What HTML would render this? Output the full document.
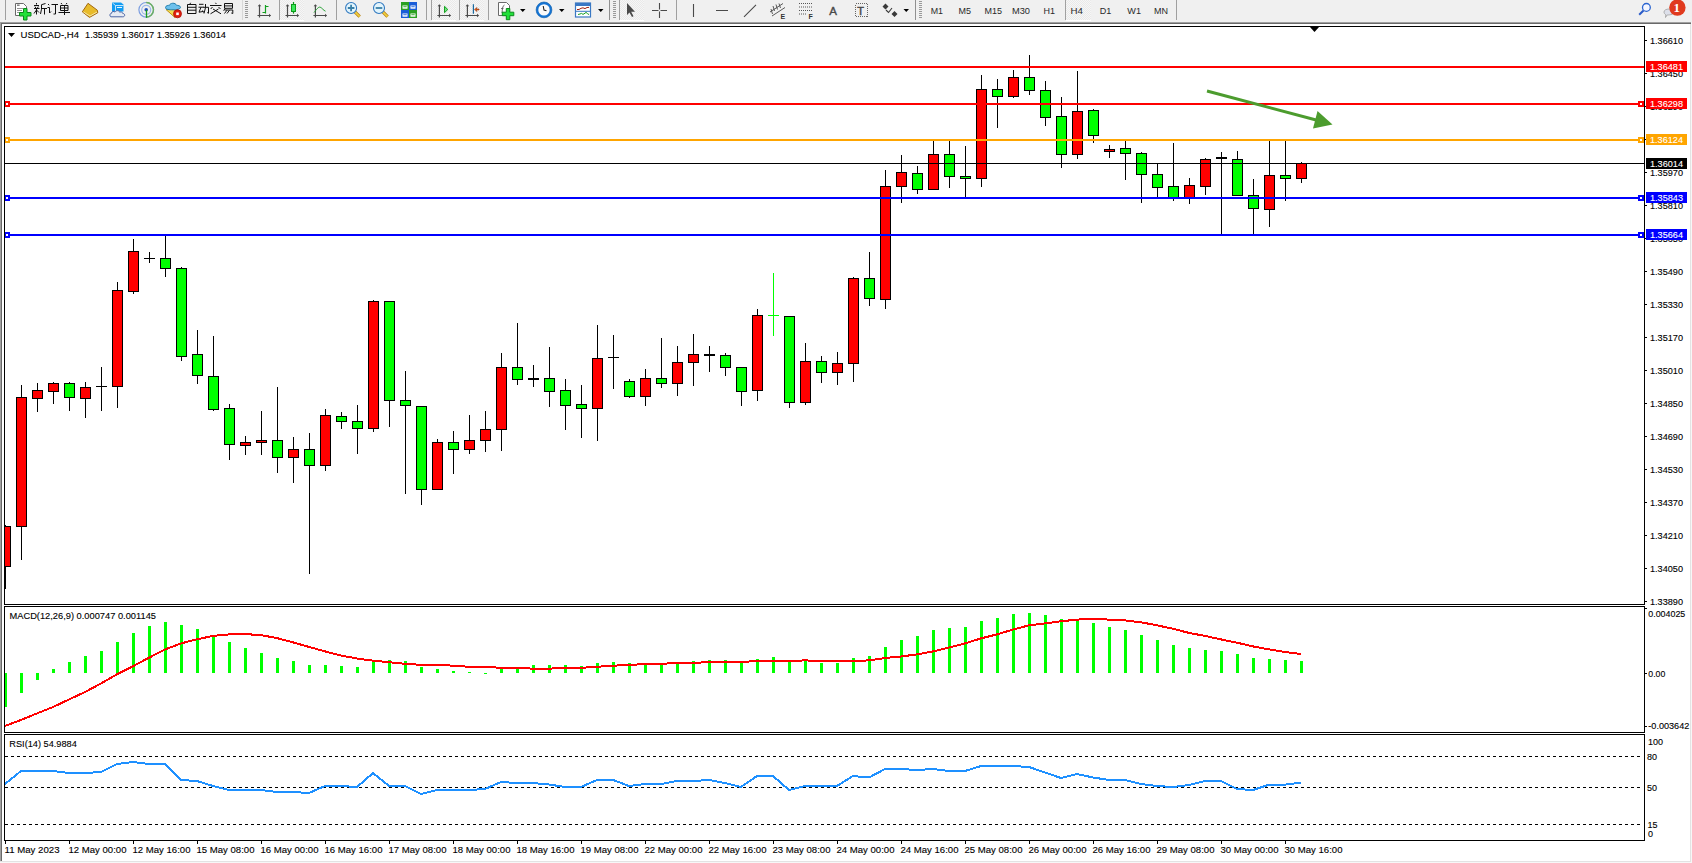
<!DOCTYPE html>
<html><head><meta charset="utf-8"><title>MT4 USDCAD H4</title>
<style>
html,body{margin:0;padding:0;background:#f0f0f0;overflow:hidden;width:1692px;height:863px}
svg{position:absolute;left:0;top:0;display:block}
text{font-family:"Liberation Sans", sans-serif;}
.ax{stroke:currentColor;stroke-width:0.3px}
</style></head><body>
<svg width="1692" height="863" viewBox="0 0 1692 863" shape-rendering="crispEdges">

<rect x="0" y="0" width="1692" height="863" fill="#f0f0f0"/>
<rect x="0" y="22" width="1692" height="841" fill="#ffffff"/>
<rect x="0" y="22" width="1692" height="1" fill="#a0a0a0"/>
<rect x="0" y="23" width="1692" height="1" fill="#696969"/>
<rect x="0" y="22" width="1" height="841" fill="#a0a0a0"/>
<rect x="1" y="23" width="1" height="840" fill="#696969"/>
<rect x="1690" y="24" width="1" height="839" fill="#e3e3e3"/>
<rect x="1691" y="22" width="1" height="841" fill="#f7f7f7"/>
<rect x="0" y="861" width="1691" height="1" fill="#e3e3e3"/>
<rect x="0" y="862" width="1692" height="1" fill="#f7f7f7"/>
<defs><pattern id="chk" width="2" height="2" patternUnits="userSpaceOnUse"><rect width="2" height="2" fill="#f6f6f6"/><rect width="1" height="1" fill="#e9e9e9"/><rect x="1" y="1" width="1" height="1" fill="#e9e9e9"/></pattern></defs>
<rect x="5" y="0" width="1" height="20" fill="#a0a0a0"/>
<rect x="242" y="0" width="1" height="20" fill="#d8d8d8"/>
<rect x="245" y="1" width="3" height="1" fill="#9a9a9a"/>
<rect x="245" y="3" width="3" height="1" fill="#9a9a9a"/>
<rect x="245" y="5" width="3" height="1" fill="#9a9a9a"/>
<rect x="245" y="7" width="3" height="1" fill="#9a9a9a"/>
<rect x="245" y="9" width="3" height="1" fill="#9a9a9a"/>
<rect x="245" y="11" width="3" height="1" fill="#9a9a9a"/>
<rect x="245" y="13" width="3" height="1" fill="#9a9a9a"/>
<rect x="245" y="15" width="3" height="1" fill="#9a9a9a"/>
<rect x="245" y="17" width="3" height="1" fill="#9a9a9a"/>
<rect x="279" y="0" width="1" height="20" fill="#a0a0a0"/>
<rect x="336" y="0" width="1" height="20" fill="#a0a0a0"/>
<rect x="426" y="0" width="1" height="20" fill="#a0a0a0"/>
<rect x="431" y="0" width="1" height="20" fill="#a0a0a0"/>
<rect x="459" y="0" width="1" height="20" fill="#a0a0a0"/>
<rect x="488" y="0" width="1" height="20" fill="#a0a0a0"/>
<rect x="609" y="0" width="1" height="20" fill="#909090"/>
<rect x="613" y="1" width="3" height="1" fill="#9a9a9a"/>
<rect x="613" y="3" width="3" height="1" fill="#9a9a9a"/>
<rect x="613" y="5" width="3" height="1" fill="#9a9a9a"/>
<rect x="613" y="7" width="3" height="1" fill="#9a9a9a"/>
<rect x="613" y="9" width="3" height="1" fill="#9a9a9a"/>
<rect x="613" y="11" width="3" height="1" fill="#9a9a9a"/>
<rect x="613" y="13" width="3" height="1" fill="#9a9a9a"/>
<rect x="613" y="15" width="3" height="1" fill="#9a9a9a"/>
<rect x="613" y="17" width="3" height="1" fill="#9a9a9a"/>
<rect x="619" y="0" width="1" height="20" fill="#a0a0a0"/>
<rect x="676" y="0" width="1" height="20" fill="#a0a0a0"/>
<rect x="915" y="0" width="1" height="20" fill="#909090"/>
<rect x="919" y="1" width="3" height="1" fill="#9a9a9a"/>
<rect x="919" y="3" width="3" height="1" fill="#9a9a9a"/>
<rect x="919" y="5" width="3" height="1" fill="#9a9a9a"/>
<rect x="919" y="7" width="3" height="1" fill="#9a9a9a"/>
<rect x="919" y="9" width="3" height="1" fill="#9a9a9a"/>
<rect x="919" y="11" width="3" height="1" fill="#9a9a9a"/>
<rect x="919" y="13" width="3" height="1" fill="#9a9a9a"/>
<rect x="919" y="15" width="3" height="1" fill="#9a9a9a"/>
<rect x="919" y="17" width="3" height="1" fill="#9a9a9a"/>
<rect x="1176" y="0" width="1" height="20" fill="#a0a0a0"/>
<rect x="280" y="0" width="24" height="20" fill="url(#chk)"/>
<rect x="280" y="20" width="24" height="1" fill="#ffffff"/>
<rect x="432" y="0" width="24" height="20" fill="url(#chk)"/>
<rect x="432" y="20" width="24" height="1" fill="#ffffff"/>
<rect x="460" y="0" width="24" height="20" fill="url(#chk)"/>
<rect x="460" y="20" width="24" height="1" fill="#ffffff"/>
<rect x="620" y="0" width="24" height="20" fill="url(#chk)"/>
<rect x="620" y="20" width="24" height="1" fill="#ffffff"/>
<rect x="1066" y="0" width="25" height="20" fill="url(#chk)"/>
<rect x="1066" y="20" width="25" height="1" fill="#ffffff"/>
<rect x="1065" y="0" width="1" height="20" fill="#a0a0a0"/>
<g shape-rendering="geometricPrecision">
<path d="M15.5,3.5 h8 l3,3 v9 h-11 z" fill="#fff" stroke="#6a6a6a" stroke-width="1"/>
<rect x="17" y="4.5" width="2.6" height="1.4" fill="#777"/>
<path d="M17,8.5 h6 M17,10.5 h5 M17,12.5 h3" stroke="#888" stroke-width="0.9"/>
<path d="M23.5,8.5 h3.5 v4 h4 v3.5 h-4 v4 h-3.5 v-4 h-4 v-3.5 h4 z" fill="#22e03a" stroke="#0a8a1a" stroke-width="1"/>
<path stroke="#111" stroke-width="1" fill="none" d="M36.5,3 v1.5 M34,5.5 h5 M35,6.5 l0.8,1.5 M38.3,6.5 l-0.8,1.5 M34,8.5 h5.5 M36.5,8.5 v6 M36.5,10 l-2.5,3.5 M36.5,10 l2.5,2.5 M45.5,3.5 l-4,1.2 v4.5 l-1,4.8 M41.5,8.5 h5.5 M44.5,8.5 v6"/>
<path stroke="#111" stroke-width="1" fill="none" d="M48,4 l1.2,1.2 M47.5,7.5 h2 v5.5 l1.5,-1.5 M51.5,4.5 h6.5 M55.5,4.5 v9.5 h-2"/>
<path stroke="#111" stroke-width="1" fill="none" d="M61,3 l1,1.3 M67,3 l-1,1.3 M60.5,5.5 h7.5 v5 h-7.5 z M60.5,8 h7.5 M64.5,5.5 v9.5 M58.5,12.5 h11.5"/>
<path d="M88,3.3 L97.3,10.2 L97.8,12.7 L89.5,17.4 L82.3,11.8 Z" fill="#e8bb2a" stroke="#a2680e" stroke-width="1"/>
<path d="M83.5,12 L90,16 L97,12" fill="none" stroke="#f7e6a6" stroke-width="1"/>
<path d="M112,2.5 h9 l2.5,2 v7 h-11.5 z" fill="#129cf2"/>
<path d="M112.5,3 l3,2.5 v6 M115.5,5.5 h8" stroke="#e8f6ff" stroke-width="0.8" fill="none"/>
<path d="M117,7.5 h5" stroke="#e8f6ff" stroke-width="1" fill="none"/>
<path d="M111,16.8 c-1.5,0 -1.5,-3.5 0.5,-3.5 c0,-2 2.5,-2.5 3.5,-1.2 c1,-2 4,-2 4.8,0.2 c1,-1 3,0 3,1.2 c2.5,0 2.5,3.3 0,3.3 z" fill="#e6eaf3" stroke="#4a64a4" stroke-width="1"/>
<circle cx="146.2" cy="9.8" r="7.3" fill="none" stroke="#7c9ee0" stroke-width="1.2"/>
<circle cx="146.2" cy="9.8" r="4.5" fill="none" stroke="#9cb8e8" stroke-width="1.2"/>
<path d="M146.2,2.5 A7.3,7.3 0 0 1 146.2,17.1" fill="none" stroke="#6cb060" stroke-width="1.4"/>
<circle cx="146.2" cy="9.8" r="1.8" fill="#2050c0"/>
<path d="M146.5,9.8 v8" stroke="#1a9a1a" stroke-width="1.3"/>
<path d="M166,9.5 L178,9.5 L175,17.5 Z" fill="#f4dc50" stroke="#c09010" stroke-width="1"/>
<path d="M165.5,7.5 c0,-2 3,-2.2 4,-2.2 c0.5,-2.5 6,-3 7,0 c1.5,0 4,0.5 4,2 c0,2 -4,2.5 -7.5,2.5 c-3.5,0 -7.5,0 -7.5,-2.3 z" fill="#6cc0ec" stroke="#2480b0" stroke-width="1"/>
<circle cx="177.5" cy="13.8" r="4" fill="#e02010" stroke="#b01008" stroke-width="0.8"/>
<rect x="176.2" y="12.5" width="2.6" height="2.6" fill="#fff"/>
<path stroke="#111" stroke-width="1" fill="none" d="M190.6,2.8 l-0.8,1.5 M187.5,4.5 h8.5 v9 h-8.5 z M187.5,7.3 h8.5 M187.5,10.2 h8.5"/>
<path stroke="#111" stroke-width="1" fill="none" d="M199,4.3 h4.5 M198.5,7.2 h5.5 M201,7.2 l-2,5 l4.5,-0.8 M202.5,10.5 l1,2 M203.5,7.3 h5 v6 l-1.3,-0.8 M205.5,4 v3.5 l-1.5,6"/>
<path stroke="#111" stroke-width="1" fill="none" d="M215.5,2.8 l0.8,1.2 M210,5.5 h11.5 M212.5,7 l-1.8,2 M218.5,7 l2,2 M213,9 l8,4.8 M218.5,9 l-8,4.8"/>
<path stroke="#111" stroke-width="1" fill="none" d="M224.5,3.5 h8 v4.8 h-8 z M224.5,5.9 h8 M225.5,8.3 l-2,2.2 M224.3,10 h8.5 v3.5 l-1.5,-0.5 M227,10.2 l-2.5,3.3 M229.5,10.2 l-2.5,3.3"/>
<path d="M259.5,5.3 V17.5 M257.5,15.5 H270.5" stroke="#4a4a4a" stroke-width="1.2" fill="none"/>
<path d="M257.7,6.3 L259.5,4.3 L261.3,6.3 Z M269.0,13.7 L271.0,15.5 L269.0,17.3 Z" fill="#4a4a4a"/>
<path d="M265.5,5 V13.6 M265.5,6.5 H268.5 M262.5,12.5 H265.5" stroke="#13a020" stroke-width="1.2" fill="none"/>
<path d="M287.5,5.3 V17.5 M285.5,15.5 H298.5" stroke="#4a4a4a" stroke-width="1.2" fill="none"/>
<path d="M285.7,6.3 L287.5,4.3 L289.3,6.3 Z M297.0,13.7 L299.0,15.5 L297.0,17.3 Z" fill="#4a4a4a"/>
<path d="M293.5,2 V13.6" stroke="#0c9a1a" stroke-width="1.2"/>
<rect x="291.5" y="4.5" width="4" height="7" fill="#3ae85a" stroke="#0c9a1a" stroke-width="1"/>
<path d="M315.4,5.3 V17.5 M313.4,15.5 H326.5" stroke="#4a4a4a" stroke-width="1.2" fill="none"/>
<path d="M313.59999999999997,6.3 L315.4,4.3 L317.2,6.3 Z M325.0,13.7 L327.0,15.5 L325.0,17.3 Z" fill="#4a4a4a"/>
<path d="M314,12.5 C316.5,9.5 318.5,6.5 320.2,7.2 C322,7.8 323.5,10.5 325.5,11.2" stroke="#22a030" stroke-width="1" fill="none"/>
<path d="M354.90000000000003,11.8 L359.70000000000005,16.6" stroke="#b27a10" stroke-width="3.2" stroke-linecap="butt"/>
<path d="M354.90000000000003,11.8 L359.70000000000005,16.6" stroke="#f0d040" stroke-width="1.8"/>
<circle cx="351.1" cy="8" r="5.5" fill="#e2f4fc" stroke="#2f78c0" stroke-width="1.1"/>
<path d="M347.8,8 H354.40000000000003 M351.1,4.7 V11.3" stroke="#3a80a8" stroke-width="1.8"/>
<path d="M382.8,11.8 L387.6,16.6" stroke="#b27a10" stroke-width="3.2" stroke-linecap="butt"/>
<path d="M382.8,11.8 L387.6,16.6" stroke="#f0d040" stroke-width="1.8"/>
<circle cx="379" cy="8" r="5.5" fill="#e2f4fc" stroke="#2f78c0" stroke-width="1.1"/>
<path d="M375.7,8 H382.3" stroke="#3a80a8" stroke-width="1.8"/>
<rect x="401" y="2" width="8" height="8" fill="#2aa020"/>
<rect x="402.5" y="5.5" width="5" height="3.2" fill="#fff"/>
<rect x="403.3" y="6.3" width="3.4" height="0.9" fill="#2aa020"/>
<rect x="409" y="2" width="8" height="8" fill="#1a5ed8"/>
<rect x="410.5" y="5.5" width="5" height="3.2" fill="#fff"/>
<rect x="411.3" y="6.3" width="3.4" height="0.9" fill="#1a5ed8"/>
<rect x="401" y="10" width="8" height="8" fill="#1a5ed8"/>
<rect x="402.5" y="13.5" width="5" height="3.2" fill="#fff"/>
<rect x="403.3" y="14.3" width="3.4" height="0.9" fill="#1a5ed8"/>
<rect x="409" y="10" width="8" height="8" fill="#2aa020"/>
<rect x="410.5" y="13.5" width="5" height="3.2" fill="#fff"/>
<rect x="411.3" y="14.3" width="3.4" height="0.9" fill="#2aa020"/>
<path d="M439.4,5.3 V17.5 M437.4,15.5 H450.5" stroke="#4a4a4a" stroke-width="1.2" fill="none"/>
<path d="M437.59999999999997,6.3 L439.4,4.3 L441.2,6.3 Z M449.0,13.7 L451.0,15.5 L449.0,17.3 Z" fill="#4a4a4a"/>
<path d="M444.5,6.3 L447.8,9.5 L444.5,12.7 Z" fill="#6ee07a" stroke="#14a020" stroke-width="1"/>
<path d="M467.4,5.3 V17.5 M465.4,15.5 H478.5" stroke="#4a4a4a" stroke-width="1.2" fill="none"/>
<path d="M465.59999999999997,6.3 L467.4,4.3 L469.2,6.3 Z M477.0,13.7 L479.0,15.5 L477.0,17.3 Z" fill="#4a4a4a"/>
<path d="M473.4,4.3 V13.7" stroke="#1a6aa0" stroke-width="1.2"/>
<path d="M474.5,9.5 L477,7.5 L476.3,9 H479 V10 H476.3 L477,11.5 Z" fill="#e8601a" stroke="#9a3a10" stroke-width="0.6"/>
<path d="M498.5,2.5 h8 l3,3 v10 h-11 z" fill="#fff" stroke="#6a6a6a" stroke-width="1"/>
<path d="M502,13 C502.5,10 502,6 504.5,5" stroke="#555" stroke-width="0.9" fill="none"/><path d="M501,8.5 h2.5" stroke="#555" stroke-width="0.8"/>
<path d="M506.3,8.5 h3.5 v3.7 h4 v3.5 h-4 v4 h-3.5 v-4 h-4 v-3.5 h4 z" fill="#22e03a" stroke="#0a8a1a" stroke-width="1"/>
<path d="M520,9 L525.5,9 L522.75,12 Z" fill="#000"/>
<path d="M559,9 L564.5,9 L561.75,12 Z" fill="#000"/>
<path d="M598,9 L603.5,9 L600.75,12 Z" fill="#000"/>
<path d="M903.5,9 L909.0,9 L906.25,12 Z" fill="#000"/>
<circle cx="544" cy="9.9" r="6.8" fill="#fafafa" stroke="#1474d4" stroke-width="2.2"/>
<circle cx="544" cy="9.9" r="7.9" fill="none" stroke="#0a5aa8" stroke-width="0.6"/>
<path d="M543.2,6 L544,10 L546.5,10.8" stroke="#222" stroke-width="1.1" fill="none"/>
<rect x="575.5" y="3" width="15" height="14" fill="#fff" stroke="#3a78c4" stroke-width="1.2"/>
<rect x="575.5" y="3" width="15" height="3" fill="#3a78c4"/>
<rect x="575.5" y="10.8" width="15" height="1" fill="#3a78c4"/>
<path d="M577,9.5 L579,9.5 L581,8.3 L583,7.8 L585,8.6 L587,7.5 L589,7.4" stroke="#a02010" stroke-width="1" fill="none"/>
<path d="M578,14.5 L580,14 L581.5,13.4 L583,14.4 L585,13.2 L586,12.4 L587.5,13.6 L589,14.6" stroke="#14a020" stroke-width="1" fill="none"/>
<path d="M627,3 L627,15 L629.5,12.5 L632,17 L633.5,16.3 L631.2,11.8 L635,11.8 Z" fill="#4a4a4a"/>
<path d="M652,10.5 H658.5 M660.5,10.5 H667 M659.5,3 V9.5 M659.5,11.5 V18" stroke="#4a4a4a" stroke-width="1.1"/>
<path d="M693.5,4 V17 M716,10.5 H728 M744,16.8 L756,4.8" stroke="#4a4a4a" stroke-width="1.1" fill="none"/>
<path d="M770,12 L783,3.5 M772,16 L785,7.5 M773,6 L774.5,11 M776,4.5 L777.5,9.5 M779,3.5 L780.5,8 M772.5,14 L771,9" stroke="#4a4a4a" stroke-width="0.9" fill="none"/>
<text x="780.5" y="18.8" font-size="7" font-weight="bold" fill="#333" style="font-family:'Liberation Sans',sans-serif">E</text>
<path d="M799,3.5 H812 M799,7 H812 M799,10.5 H812 M799,14 H807" stroke="#555" stroke-width="1" stroke-dasharray="1,1" fill="none"/>
<text x="808.5" y="18.8" font-size="7" font-weight="bold" fill="#333" style="font-family:'Liberation Sans',sans-serif">F</text>
<text x="829.3" y="15" font-size="11.5" fill="#4a4a4a" stroke="#4a4a4a" stroke-width="0.4" style="font-family:'Liberation Sans',sans-serif">A</text>
<rect x="855.5" y="3.5" width="12" height="13" fill="none" stroke="#666" stroke-width="1" stroke-dasharray="1,1" shape-rendering="crispEdges"/>
<text x="857.3" y="14.5" font-size="11" fill="#4a4a4a" stroke="#4a4a4a" stroke-width="0.5" style="font-family:'Liberation Sans',sans-serif">T</text>
<path d="M882.5,6.5 L885.5,3.5 L888.5,6.5 L885.5,9.5 Z M891.5,14 L894.5,11 L897.5,14 L894.5,17 Z" fill="#3a3a3a"/>
<path d="M886,10 L888.5,12.5 L892,8" stroke="#3a3a3a" stroke-width="1.1" fill="none"/>
<circle cx="1646.4" cy="7.4" r="3.9" fill="#f4f6ff" stroke="#2a64d0" stroke-width="1.3"/>
<path d="M1643.5,10.5 L1639.2,14.8" stroke="#2a5ac8" stroke-width="2"/>
<path d="M1664,12 c0,-4 10,-4 10,0 c0,3 -6,3 -7,3 l-1.5,2.5 l0.3,-2.8 c-1,-0.5 -1.8,-1.5 -1.8,-2.7 z" fill="#dde0ea" stroke="#a0a0a0" stroke-width="0.8"/>
<circle cx="1677.4" cy="7.6" r="8.2" fill="#e03a1e"/>
<text x="1673.6" y="12.3" font-size="13" font-weight="bold" fill="#fff" style="font-family:'Liberation Serif',serif">1</text>
</g>
<text x="930.7" y="14.2" font-size="9.6" fill="#2a2a2a" textLength="12.3" lengthAdjust="spacingAndGlyphs" style="font-family:'Liberation Sans',sans-serif">M1</text>
<text x="958.5" y="14.2" font-size="9.6" fill="#2a2a2a" textLength="12.5" lengthAdjust="spacingAndGlyphs" style="font-family:'Liberation Sans',sans-serif">M5</text>
<text x="984.5" y="14.2" font-size="9.6" fill="#2a2a2a" textLength="17.5" lengthAdjust="spacingAndGlyphs" style="font-family:'Liberation Sans',sans-serif">M15</text>
<text x="1012" y="14.2" font-size="9.6" fill="#2a2a2a" textLength="18" lengthAdjust="spacingAndGlyphs" style="font-family:'Liberation Sans',sans-serif">M30</text>
<text x="1043.5" y="14.2" font-size="9.6" fill="#2a2a2a" textLength="11.5" lengthAdjust="spacingAndGlyphs" style="font-family:'Liberation Sans',sans-serif">H1</text>
<text x="1070.6" y="14.2" font-size="9.6" fill="#2a2a2a" textLength="12.4" lengthAdjust="spacingAndGlyphs" style="font-family:'Liberation Sans',sans-serif">H4</text>
<text x="1099.8" y="14.2" font-size="9.6" fill="#2a2a2a" textLength="11.6" lengthAdjust="spacingAndGlyphs" style="font-family:'Liberation Sans',sans-serif">D1</text>
<text x="1127.3" y="14.2" font-size="9.6" fill="#2a2a2a" textLength="13.7" lengthAdjust="spacingAndGlyphs" style="font-family:'Liberation Sans',sans-serif">W1</text>
<text x="1154" y="14.2" font-size="9.6" fill="#2a2a2a" textLength="14" lengthAdjust="spacingAndGlyphs" style="font-family:'Liberation Sans',sans-serif">MN</text>
<defs><clipPath id="cm"><rect x="5" y="27" width="1639" height="577"/></clipPath><clipPath id="cmacd"><rect x="5" y="607" width="1639" height="125"/></clipPath><clipPath id="crsi"><rect x="5" y="735" width="1639" height="105"/></clipPath></defs>
<g clip-path="url(#cm)">
<rect x="5" y="525" width="1" height="64" fill="#000"/>
<rect x="0" y="526" width="11" height="41" fill="#000"/>
<rect x="1" y="527" width="9" height="39" fill="#ff0000"/>
<rect x="21" y="385" width="1" height="175" fill="#000"/>
<rect x="16" y="397" width="11" height="130" fill="#000"/>
<rect x="17" y="398" width="9" height="128" fill="#ff0000"/>
<rect x="37" y="383" width="1" height="29" fill="#000"/>
<rect x="32" y="390" width="11" height="9" fill="#000"/>
<rect x="33" y="391" width="9" height="7" fill="#ff0000"/>
<rect x="53" y="382" width="1" height="22" fill="#000"/>
<rect x="48" y="383" width="11" height="9" fill="#000"/>
<rect x="49" y="384" width="9" height="7" fill="#ff0000"/>
<rect x="69" y="382" width="1" height="29" fill="#000"/>
<rect x="64" y="383" width="11" height="15" fill="#000"/>
<rect x="65" y="384" width="9" height="13" fill="#00ff00"/>
<rect x="85" y="382" width="1" height="36" fill="#000"/>
<rect x="80" y="387" width="11" height="12" fill="#000"/>
<rect x="81" y="388" width="9" height="10" fill="#ff0000"/>
<rect x="101" y="367" width="1" height="44" fill="#000"/>
<rect x="96" y="386" width="11" height="1" fill="#000"/>
<rect x="117" y="282" width="1" height="126" fill="#000"/>
<rect x="112" y="290" width="11" height="97" fill="#000"/>
<rect x="113" y="291" width="9" height="95" fill="#ff0000"/>
<rect x="133" y="239" width="1" height="55" fill="#000"/>
<rect x="128" y="251" width="11" height="41" fill="#000"/>
<rect x="129" y="252" width="9" height="39" fill="#ff0000"/>
<rect x="149" y="252" width="1" height="11" fill="#000"/>
<rect x="144" y="258" width="11" height="1" fill="#000"/>
<rect x="165" y="235" width="1" height="42" fill="#000"/>
<rect x="160" y="258" width="11" height="11" fill="#000"/>
<rect x="161" y="259" width="9" height="9" fill="#00ff00"/>
<rect x="181" y="267" width="1" height="94" fill="#000"/>
<rect x="176" y="268" width="11" height="89" fill="#000"/>
<rect x="177" y="269" width="9" height="87" fill="#00ff00"/>
<rect x="197" y="330" width="1" height="54" fill="#000"/>
<rect x="192" y="354" width="11" height="22" fill="#000"/>
<rect x="193" y="355" width="9" height="20" fill="#00ff00"/>
<rect x="213" y="336" width="1" height="75" fill="#000"/>
<rect x="208" y="376" width="11" height="34" fill="#000"/>
<rect x="209" y="377" width="9" height="32" fill="#00ff00"/>
<rect x="229" y="404" width="1" height="56" fill="#000"/>
<rect x="224" y="408" width="11" height="37" fill="#000"/>
<rect x="225" y="409" width="9" height="35" fill="#00ff00"/>
<rect x="245" y="436" width="1" height="19" fill="#000"/>
<rect x="240" y="442" width="11" height="4" fill="#000"/>
<rect x="241" y="443" width="9" height="2" fill="#ff0000"/>
<rect x="261" y="411" width="1" height="44" fill="#000"/>
<rect x="256" y="440" width="11" height="3" fill="#000"/>
<rect x="257" y="441" width="9" height="1" fill="#ff0000"/>
<rect x="277" y="387" width="1" height="86" fill="#000"/>
<rect x="272" y="440" width="11" height="18" fill="#000"/>
<rect x="273" y="441" width="9" height="16" fill="#00ff00"/>
<rect x="293" y="437" width="1" height="46" fill="#000"/>
<rect x="288" y="449" width="11" height="9" fill="#000"/>
<rect x="289" y="450" width="9" height="7" fill="#ff0000"/>
<rect x="309" y="433" width="1" height="141" fill="#000"/>
<rect x="304" y="449" width="11" height="17" fill="#000"/>
<rect x="305" y="450" width="9" height="15" fill="#00ff00"/>
<rect x="325" y="409" width="1" height="62" fill="#000"/>
<rect x="320" y="415" width="11" height="51" fill="#000"/>
<rect x="321" y="416" width="9" height="49" fill="#ff0000"/>
<rect x="341" y="412" width="1" height="17" fill="#000"/>
<rect x="336" y="416" width="11" height="6" fill="#000"/>
<rect x="337" y="417" width="9" height="4" fill="#00ff00"/>
<rect x="357" y="405" width="1" height="49" fill="#000"/>
<rect x="352" y="421" width="11" height="8" fill="#000"/>
<rect x="353" y="422" width="9" height="6" fill="#00ff00"/>
<rect x="373" y="300" width="1" height="132" fill="#000"/>
<rect x="368" y="301" width="11" height="128" fill="#000"/>
<rect x="369" y="302" width="9" height="126" fill="#ff0000"/>
<rect x="389" y="301" width="1" height="126" fill="#000"/>
<rect x="384" y="301" width="11" height="100" fill="#000"/>
<rect x="385" y="302" width="9" height="98" fill="#00ff00"/>
<rect x="405" y="371" width="1" height="123" fill="#000"/>
<rect x="400" y="400" width="11" height="6" fill="#000"/>
<rect x="401" y="401" width="9" height="4" fill="#00ff00"/>
<rect x="421" y="406" width="1" height="99" fill="#000"/>
<rect x="416" y="406" width="11" height="84" fill="#000"/>
<rect x="417" y="407" width="9" height="82" fill="#00ff00"/>
<rect x="437" y="439" width="1" height="51" fill="#000"/>
<rect x="432" y="442" width="11" height="48" fill="#000"/>
<rect x="433" y="443" width="9" height="46" fill="#ff0000"/>
<rect x="453" y="431" width="1" height="43" fill="#000"/>
<rect x="448" y="442" width="11" height="8" fill="#000"/>
<rect x="449" y="443" width="9" height="6" fill="#00ff00"/>
<rect x="469" y="415" width="1" height="39" fill="#000"/>
<rect x="464" y="440" width="11" height="10" fill="#000"/>
<rect x="465" y="441" width="9" height="8" fill="#ff0000"/>
<rect x="485" y="411" width="1" height="41" fill="#000"/>
<rect x="480" y="429" width="11" height="12" fill="#000"/>
<rect x="481" y="430" width="9" height="10" fill="#ff0000"/>
<rect x="501" y="353" width="1" height="98" fill="#000"/>
<rect x="496" y="367" width="11" height="63" fill="#000"/>
<rect x="497" y="368" width="9" height="61" fill="#ff0000"/>
<rect x="517" y="323" width="1" height="62" fill="#000"/>
<rect x="512" y="367" width="11" height="13" fill="#000"/>
<rect x="513" y="368" width="9" height="11" fill="#00ff00"/>
<rect x="533" y="365" width="1" height="22" fill="#000"/>
<rect x="528" y="378" width="11" height="2" fill="#000"/>
<rect x="549" y="347" width="1" height="60" fill="#000"/>
<rect x="544" y="378" width="11" height="14" fill="#000"/>
<rect x="545" y="379" width="9" height="12" fill="#00ff00"/>
<rect x="565" y="379" width="1" height="51" fill="#000"/>
<rect x="560" y="390" width="11" height="16" fill="#000"/>
<rect x="561" y="391" width="9" height="14" fill="#00ff00"/>
<rect x="581" y="385" width="1" height="53" fill="#000"/>
<rect x="576" y="404" width="11" height="5" fill="#000"/>
<rect x="577" y="405" width="9" height="3" fill="#00ff00"/>
<rect x="597" y="325" width="1" height="116" fill="#000"/>
<rect x="592" y="358" width="11" height="51" fill="#000"/>
<rect x="593" y="359" width="9" height="49" fill="#ff0000"/>
<rect x="613" y="335" width="1" height="54" fill="#000"/>
<rect x="608" y="357" width="11" height="1" fill="#000"/>
<rect x="629" y="379" width="1" height="19" fill="#000"/>
<rect x="624" y="381" width="11" height="16" fill="#000"/>
<rect x="625" y="382" width="9" height="14" fill="#00ff00"/>
<rect x="645" y="369" width="1" height="37" fill="#000"/>
<rect x="640" y="378" width="11" height="19" fill="#000"/>
<rect x="641" y="379" width="9" height="17" fill="#ff0000"/>
<rect x="661" y="338" width="1" height="50" fill="#000"/>
<rect x="656" y="378" width="11" height="6" fill="#000"/>
<rect x="657" y="379" width="9" height="4" fill="#00ff00"/>
<rect x="677" y="346" width="1" height="50" fill="#000"/>
<rect x="672" y="362" width="11" height="22" fill="#000"/>
<rect x="673" y="363" width="9" height="20" fill="#ff0000"/>
<rect x="693" y="334" width="1" height="52" fill="#000"/>
<rect x="688" y="354" width="11" height="9" fill="#000"/>
<rect x="689" y="355" width="9" height="7" fill="#ff0000"/>
<rect x="709" y="346" width="1" height="26" fill="#000"/>
<rect x="704" y="354" width="11" height="2" fill="#000"/>
<rect x="725" y="353" width="1" height="23" fill="#000"/>
<rect x="720" y="355" width="11" height="13" fill="#000"/>
<rect x="721" y="356" width="9" height="11" fill="#00ff00"/>
<rect x="741" y="367" width="1" height="39" fill="#000"/>
<rect x="736" y="367" width="11" height="25" fill="#000"/>
<rect x="737" y="368" width="9" height="23" fill="#00ff00"/>
<rect x="757" y="309" width="1" height="92" fill="#000"/>
<rect x="752" y="315" width="11" height="76" fill="#000"/>
<rect x="753" y="316" width="9" height="74" fill="#ff0000"/>
<rect x="773" y="273" width="1" height="63" fill="#00ff00"/>
<rect x="768" y="315" width="11" height="1" fill="#00ff00"/>
<rect x="789" y="316" width="1" height="92" fill="#000"/>
<rect x="784" y="316" width="11" height="87" fill="#000"/>
<rect x="785" y="317" width="9" height="85" fill="#00ff00"/>
<rect x="805" y="343" width="1" height="62" fill="#000"/>
<rect x="800" y="361" width="11" height="42" fill="#000"/>
<rect x="801" y="362" width="9" height="40" fill="#ff0000"/>
<rect x="821" y="356" width="1" height="27" fill="#000"/>
<rect x="816" y="361" width="11" height="12" fill="#000"/>
<rect x="817" y="362" width="9" height="10" fill="#00ff00"/>
<rect x="837" y="352" width="1" height="33" fill="#000"/>
<rect x="832" y="363" width="11" height="10" fill="#000"/>
<rect x="833" y="364" width="9" height="8" fill="#ff0000"/>
<rect x="853" y="277" width="1" height="105" fill="#000"/>
<rect x="848" y="278" width="11" height="86" fill="#000"/>
<rect x="849" y="279" width="9" height="84" fill="#ff0000"/>
<rect x="869" y="252" width="1" height="54" fill="#000"/>
<rect x="864" y="278" width="11" height="21" fill="#000"/>
<rect x="865" y="279" width="9" height="19" fill="#00ff00"/>
<rect x="885" y="170" width="1" height="139" fill="#000"/>
<rect x="880" y="186" width="11" height="114" fill="#000"/>
<rect x="881" y="187" width="9" height="112" fill="#ff0000"/>
<rect x="901" y="155" width="1" height="48" fill="#000"/>
<rect x="896" y="172" width="11" height="15" fill="#000"/>
<rect x="897" y="173" width="9" height="13" fill="#ff0000"/>
<rect x="917" y="166" width="1" height="28" fill="#000"/>
<rect x="912" y="173" width="11" height="17" fill="#000"/>
<rect x="913" y="174" width="9" height="15" fill="#00ff00"/>
<rect x="933" y="141" width="1" height="49" fill="#000"/>
<rect x="928" y="154" width="11" height="36" fill="#000"/>
<rect x="929" y="155" width="9" height="34" fill="#ff0000"/>
<rect x="949" y="141" width="1" height="47" fill="#000"/>
<rect x="944" y="154" width="11" height="23" fill="#000"/>
<rect x="945" y="155" width="9" height="21" fill="#00ff00"/>
<rect x="965" y="146" width="1" height="52" fill="#000"/>
<rect x="960" y="176" width="11" height="3" fill="#000"/>
<rect x="961" y="177" width="9" height="1" fill="#00ff00"/>
<rect x="981" y="75" width="1" height="112" fill="#000"/>
<rect x="976" y="89" width="11" height="90" fill="#000"/>
<rect x="977" y="90" width="9" height="88" fill="#ff0000"/>
<rect x="997" y="79" width="1" height="49" fill="#000"/>
<rect x="992" y="89" width="11" height="8" fill="#000"/>
<rect x="993" y="90" width="9" height="6" fill="#00ff00"/>
<rect x="1013" y="70" width="1" height="28" fill="#000"/>
<rect x="1008" y="77" width="11" height="20" fill="#000"/>
<rect x="1009" y="78" width="9" height="18" fill="#ff0000"/>
<rect x="1029" y="55" width="1" height="40" fill="#000"/>
<rect x="1024" y="77" width="11" height="14" fill="#000"/>
<rect x="1025" y="78" width="9" height="12" fill="#00ff00"/>
<rect x="1045" y="81" width="1" height="45" fill="#000"/>
<rect x="1040" y="90" width="11" height="28" fill="#000"/>
<rect x="1041" y="91" width="9" height="26" fill="#00ff00"/>
<rect x="1061" y="97" width="1" height="71" fill="#000"/>
<rect x="1056" y="116" width="11" height="39" fill="#000"/>
<rect x="1057" y="117" width="9" height="37" fill="#00ff00"/>
<rect x="1077" y="71" width="1" height="88" fill="#000"/>
<rect x="1072" y="111" width="11" height="44" fill="#000"/>
<rect x="1073" y="112" width="9" height="42" fill="#ff0000"/>
<rect x="1093" y="109" width="1" height="34" fill="#000"/>
<rect x="1088" y="110" width="11" height="26" fill="#000"/>
<rect x="1089" y="111" width="9" height="24" fill="#00ff00"/>
<rect x="1109" y="145" width="1" height="13" fill="#000"/>
<rect x="1104" y="149" width="11" height="3" fill="#000"/>
<rect x="1105" y="150" width="9" height="1" fill="#ff0000"/>
<rect x="1125" y="141" width="1" height="39" fill="#000"/>
<rect x="1120" y="148" width="11" height="6" fill="#000"/>
<rect x="1121" y="149" width="9" height="4" fill="#00ff00"/>
<rect x="1141" y="152" width="1" height="51" fill="#000"/>
<rect x="1136" y="153" width="11" height="22" fill="#000"/>
<rect x="1137" y="154" width="9" height="20" fill="#00ff00"/>
<rect x="1157" y="163" width="1" height="36" fill="#000"/>
<rect x="1152" y="174" width="11" height="14" fill="#000"/>
<rect x="1153" y="175" width="9" height="12" fill="#00ff00"/>
<rect x="1173" y="143" width="1" height="58" fill="#000"/>
<rect x="1168" y="186" width="11" height="12" fill="#000"/>
<rect x="1169" y="187" width="9" height="10" fill="#00ff00"/>
<rect x="1189" y="178" width="1" height="26" fill="#000"/>
<rect x="1184" y="185" width="11" height="13" fill="#000"/>
<rect x="1185" y="186" width="9" height="11" fill="#ff0000"/>
<rect x="1205" y="158" width="1" height="37" fill="#000"/>
<rect x="1200" y="159" width="11" height="28" fill="#000"/>
<rect x="1201" y="160" width="9" height="26" fill="#ff0000"/>
<rect x="1221" y="152" width="1" height="83" fill="#000"/>
<rect x="1216" y="157" width="11" height="2" fill="#000"/>
<rect x="1237" y="151" width="1" height="45" fill="#000"/>
<rect x="1232" y="159" width="11" height="37" fill="#000"/>
<rect x="1233" y="160" width="9" height="35" fill="#00ff00"/>
<rect x="1253" y="179" width="1" height="56" fill="#000"/>
<rect x="1248" y="195" width="11" height="14" fill="#000"/>
<rect x="1249" y="196" width="9" height="12" fill="#00ff00"/>
<rect x="1269" y="141" width="1" height="86" fill="#000"/>
<rect x="1264" y="175" width="11" height="35" fill="#000"/>
<rect x="1265" y="176" width="9" height="33" fill="#ff0000"/>
<rect x="1285" y="141" width="1" height="60" fill="#000"/>
<rect x="1280" y="175" width="11" height="4" fill="#000"/>
<rect x="1281" y="176" width="9" height="2" fill="#00ff00"/>
<rect x="1301" y="162" width="1" height="21" fill="#000"/>
<rect x="1296" y="163" width="11" height="16" fill="#000"/>
<rect x="1297" y="164" width="9" height="14" fill="#ff0000"/>
</g>
<rect x="5" y="66" width="1639" height="2" fill="#ff0000"/>
<rect x="5" y="103" width="1639" height="2" fill="#ff0000"/>
<rect x="4" y="101" width="6" height="6" fill="#ff0000"/>
<rect x="6" y="103" width="2" height="2" fill="#ffffff"/>
<rect x="1638" y="101" width="6" height="6" fill="#ff0000"/>
<rect x="1640" y="103" width="2" height="2" fill="#ffffff"/>
<rect x="5" y="139" width="1639" height="2" fill="#ffa500"/>
<rect x="4" y="137" width="6" height="6" fill="#ffa500"/>
<rect x="6" y="139" width="2" height="2" fill="#ffffff"/>
<rect x="1638" y="137" width="6" height="6" fill="#ffa500"/>
<rect x="1640" y="139" width="2" height="2" fill="#ffffff"/>
<rect x="5" y="163" width="1639" height="1" fill="#000000"/>
<rect x="5" y="197" width="1639" height="2" fill="#0000ff"/>
<rect x="4" y="195" width="6" height="6" fill="#0000ff"/>
<rect x="6" y="197" width="2" height="2" fill="#ffffff"/>
<rect x="1638" y="195" width="6" height="6" fill="#0000ff"/>
<rect x="1640" y="197" width="2" height="2" fill="#ffffff"/>
<rect x="5" y="234" width="1639" height="2" fill="#0000ff"/>
<rect x="4" y="232" width="6" height="6" fill="#0000ff"/>
<rect x="6" y="234" width="2" height="2" fill="#ffffff"/>
<rect x="1638" y="232" width="6" height="6" fill="#0000ff"/>
<rect x="1640" y="234" width="2" height="2" fill="#ffffff"/>
<g shape-rendering="geometricPrecision">
<line x1="1207" y1="91" x2="1318" y2="120.5" stroke="#4c9c2e" stroke-width="3"/>
<polygon points="1317.5,111 1332.5,124.5 1313,128.5" fill="#4c9c2e"/>
</g>
<rect x="4" y="26" width="1641" height="1" fill="#000"/>
<rect x="4" y="604" width="1641" height="1" fill="#000"/>
<rect x="4" y="26" width="1" height="579" fill="#000"/>
<rect x="1644" y="26" width="1" height="579" fill="#000"/>
<polygon points="1309.5,26.5 1319.5,26.5 1314.5,32" fill="#000" shape-rendering="geometricPrecision"/>
<polygon points="8,33 15,33 11.5,37" fill="#000" shape-rendering="geometricPrecision"/>
<text x="20.5" y="37.6" font-size="9.9" fill="#000" stroke="#000" stroke-width="0.12" textLength="58.5" lengthAdjust="spacingAndGlyphs">USDCAD-,H4</text>
<text x="85" y="37.6" font-size="9.9" fill="#000" stroke="#000" stroke-width="0.12" textLength="141" lengthAdjust="spacingAndGlyphs">1.35939 1.36017 1.35926 1.36014</text>
<rect x="1645" y="40" width="2" height="1" fill="#000"/>
<text x="1650" y="43.6" font-size="9.9" fill="#000" stroke="#000" stroke-width="0.12" textLength="33" lengthAdjust="spacingAndGlyphs">1.36610</text>
<rect x="1645" y="73" width="2" height="1" fill="#000"/>
<text x="1650" y="76.6" font-size="9.9" fill="#000" stroke="#000" stroke-width="0.12" textLength="33" lengthAdjust="spacingAndGlyphs">1.36450</text>
<rect x="1645" y="106" width="2" height="1" fill="#000"/>
<text x="1650" y="109.6" font-size="9.9" fill="#000" stroke="#000" stroke-width="0.12" textLength="33" lengthAdjust="spacingAndGlyphs">1.36290</text>
<rect x="1645" y="139" width="2" height="1" fill="#000"/>
<text x="1650" y="142.6" font-size="9.9" fill="#000" stroke="#000" stroke-width="0.12" textLength="33" lengthAdjust="spacingAndGlyphs">1.36130</text>
<rect x="1645" y="172" width="2" height="1" fill="#000"/>
<text x="1650" y="175.6" font-size="9.9" fill="#000" stroke="#000" stroke-width="0.12" textLength="33" lengthAdjust="spacingAndGlyphs">1.35970</text>
<rect x="1645" y="205" width="2" height="1" fill="#000"/>
<text x="1650" y="208.6" font-size="9.9" fill="#000" stroke="#000" stroke-width="0.12" textLength="33" lengthAdjust="spacingAndGlyphs">1.35810</text>
<rect x="1645" y="238" width="2" height="1" fill="#000"/>
<text x="1650" y="241.6" font-size="9.9" fill="#000" stroke="#000" stroke-width="0.12" textLength="33" lengthAdjust="spacingAndGlyphs">1.35650</text>
<rect x="1645" y="271" width="2" height="1" fill="#000"/>
<text x="1650" y="274.6" font-size="9.9" fill="#000" stroke="#000" stroke-width="0.12" textLength="33" lengthAdjust="spacingAndGlyphs">1.35490</text>
<rect x="1645" y="304" width="2" height="1" fill="#000"/>
<text x="1650" y="307.6" font-size="9.9" fill="#000" stroke="#000" stroke-width="0.12" textLength="33" lengthAdjust="spacingAndGlyphs">1.35330</text>
<rect x="1645" y="337" width="2" height="1" fill="#000"/>
<text x="1650" y="340.6" font-size="9.9" fill="#000" stroke="#000" stroke-width="0.12" textLength="33" lengthAdjust="spacingAndGlyphs">1.35170</text>
<rect x="1645" y="370" width="2" height="1" fill="#000"/>
<text x="1650" y="373.6" font-size="9.9" fill="#000" stroke="#000" stroke-width="0.12" textLength="33" lengthAdjust="spacingAndGlyphs">1.35010</text>
<rect x="1645" y="403" width="2" height="1" fill="#000"/>
<text x="1650" y="406.6" font-size="9.9" fill="#000" stroke="#000" stroke-width="0.12" textLength="33" lengthAdjust="spacingAndGlyphs">1.34850</text>
<rect x="1645" y="436" width="2" height="1" fill="#000"/>
<text x="1650" y="439.6" font-size="9.9" fill="#000" stroke="#000" stroke-width="0.12" textLength="33" lengthAdjust="spacingAndGlyphs">1.34690</text>
<rect x="1645" y="469" width="2" height="1" fill="#000"/>
<text x="1650" y="472.6" font-size="9.9" fill="#000" stroke="#000" stroke-width="0.12" textLength="33" lengthAdjust="spacingAndGlyphs">1.34530</text>
<rect x="1645" y="502" width="2" height="1" fill="#000"/>
<text x="1650" y="505.6" font-size="9.9" fill="#000" stroke="#000" stroke-width="0.12" textLength="33" lengthAdjust="spacingAndGlyphs">1.34370</text>
<rect x="1645" y="535" width="2" height="1" fill="#000"/>
<text x="1650" y="538.6" font-size="9.9" fill="#000" stroke="#000" stroke-width="0.12" textLength="33" lengthAdjust="spacingAndGlyphs">1.34210</text>
<rect x="1645" y="568" width="2" height="1" fill="#000"/>
<text x="1650" y="571.6" font-size="9.9" fill="#000" stroke="#000" stroke-width="0.12" textLength="33" lengthAdjust="spacingAndGlyphs">1.34050</text>
<rect x="1645" y="601" width="2" height="1" fill="#000"/>
<text x="1650" y="604.6" font-size="9.9" fill="#000" stroke="#000" stroke-width="0.12" textLength="33" lengthAdjust="spacingAndGlyphs">1.33890</text>
<rect x="1646" y="61" width="41" height="11" fill="#ff0000"/>
<text x="1650" y="69.6" font-size="9.9" fill="#fff" stroke="#fff" stroke-width="0.12" textLength="33" lengthAdjust="spacingAndGlyphs">1.36481</text>
<rect x="1646" y="98" width="41" height="11" fill="#ff0000"/>
<text x="1650" y="106.6" font-size="9.9" fill="#fff" stroke="#fff" stroke-width="0.12" textLength="33" lengthAdjust="spacingAndGlyphs">1.36298</text>
<rect x="1646" y="134" width="41" height="11" fill="#ffa500"/>
<text x="1650" y="142.6" font-size="9.9" fill="#fff" stroke="#fff" stroke-width="0.12" textLength="33" lengthAdjust="spacingAndGlyphs">1.36124</text>
<rect x="1646" y="158" width="41" height="11" fill="#000000"/>
<text x="1650" y="166.6" font-size="9.9" fill="#fff" stroke="#fff" stroke-width="0.12" textLength="33" lengthAdjust="spacingAndGlyphs">1.36014</text>
<rect x="1646" y="192" width="41" height="11" fill="#0000ff"/>
<text x="1650" y="200.6" font-size="9.9" fill="#fff" stroke="#fff" stroke-width="0.12" textLength="33" lengthAdjust="spacingAndGlyphs">1.35843</text>
<rect x="1646" y="229" width="41" height="11" fill="#0000ff"/>
<text x="1650" y="237.6" font-size="9.9" fill="#fff" stroke="#fff" stroke-width="0.12" textLength="33" lengthAdjust="spacingAndGlyphs">1.35664</text>
<rect x="4" y="606" width="1641" height="1" fill="#000"/>
<rect x="4" y="732" width="1641" height="1" fill="#000"/>
<rect x="4" y="606" width="1" height="127" fill="#000"/>
<rect x="1644" y="606" width="1" height="127" fill="#000"/>
<g clip-path="url(#cmacd)">
<rect x="4" y="673" width="3" height="34" fill="#00ff00"/>
<rect x="20" y="673" width="3" height="20" fill="#00ff00"/>
<rect x="36" y="673" width="3" height="7" fill="#00ff00"/>
<rect x="52" y="669" width="3" height="4" fill="#00ff00"/>
<rect x="68" y="662" width="3" height="11" fill="#00ff00"/>
<rect x="84" y="656" width="3" height="17" fill="#00ff00"/>
<rect x="100" y="651" width="3" height="22" fill="#00ff00"/>
<rect x="116" y="642" width="3" height="31" fill="#00ff00"/>
<rect x="132" y="633" width="3" height="40" fill="#00ff00"/>
<rect x="148" y="626" width="3" height="47" fill="#00ff00"/>
<rect x="164" y="622" width="3" height="51" fill="#00ff00"/>
<rect x="180" y="625" width="3" height="48" fill="#00ff00"/>
<rect x="196" y="629" width="3" height="44" fill="#00ff00"/>
<rect x="212" y="635" width="3" height="38" fill="#00ff00"/>
<rect x="228" y="642" width="3" height="31" fill="#00ff00"/>
<rect x="244" y="648" width="3" height="25" fill="#00ff00"/>
<rect x="260" y="653" width="3" height="20" fill="#00ff00"/>
<rect x="276" y="658" width="3" height="15" fill="#00ff00"/>
<rect x="292" y="661" width="3" height="12" fill="#00ff00"/>
<rect x="308" y="665" width="3" height="8" fill="#00ff00"/>
<rect x="324" y="665" width="3" height="8" fill="#00ff00"/>
<rect x="340" y="666" width="3" height="7" fill="#00ff00"/>
<rect x="356" y="667" width="3" height="6" fill="#00ff00"/>
<rect x="372" y="661" width="3" height="12" fill="#00ff00"/>
<rect x="388" y="660" width="3" height="13" fill="#00ff00"/>
<rect x="404" y="661" width="3" height="12" fill="#00ff00"/>
<rect x="420" y="667" width="3" height="6" fill="#00ff00"/>
<rect x="436" y="669" width="3" height="4" fill="#00ff00"/>
<rect x="452" y="671" width="3" height="2" fill="#00ff00"/>
<rect x="468" y="672" width="3" height="1" fill="#00ff00"/>
<rect x="484" y="673" width="3" height="1" fill="#00ff00"/>
<rect x="500" y="669" width="3" height="4" fill="#00ff00"/>
<rect x="516" y="669" width="3" height="4" fill="#00ff00"/>
<rect x="532" y="665" width="3" height="8" fill="#00ff00"/>
<rect x="548" y="665" width="3" height="8" fill="#00ff00"/>
<rect x="564" y="665" width="3" height="8" fill="#00ff00"/>
<rect x="580" y="666" width="3" height="7" fill="#00ff00"/>
<rect x="596" y="663" width="3" height="10" fill="#00ff00"/>
<rect x="612" y="662" width="3" height="11" fill="#00ff00"/>
<rect x="628" y="663" width="3" height="10" fill="#00ff00"/>
<rect x="644" y="663" width="3" height="10" fill="#00ff00"/>
<rect x="660" y="665" width="3" height="8" fill="#00ff00"/>
<rect x="676" y="662" width="3" height="11" fill="#00ff00"/>
<rect x="692" y="661" width="3" height="12" fill="#00ff00"/>
<rect x="708" y="660" width="3" height="13" fill="#00ff00"/>
<rect x="724" y="660" width="3" height="13" fill="#00ff00"/>
<rect x="740" y="663" width="3" height="10" fill="#00ff00"/>
<rect x="756" y="659" width="3" height="14" fill="#00ff00"/>
<rect x="772" y="657" width="3" height="16" fill="#00ff00"/>
<rect x="788" y="662" width="3" height="11" fill="#00ff00"/>
<rect x="804" y="661" width="3" height="12" fill="#00ff00"/>
<rect x="820" y="663" width="3" height="10" fill="#00ff00"/>
<rect x="836" y="663" width="3" height="10" fill="#00ff00"/>
<rect x="852" y="658" width="3" height="15" fill="#00ff00"/>
<rect x="868" y="656" width="3" height="17" fill="#00ff00"/>
<rect x="884" y="647" width="3" height="26" fill="#00ff00"/>
<rect x="900" y="640" width="3" height="33" fill="#00ff00"/>
<rect x="916" y="636" width="3" height="37" fill="#00ff00"/>
<rect x="932" y="630" width="3" height="43" fill="#00ff00"/>
<rect x="948" y="628" width="3" height="45" fill="#00ff00"/>
<rect x="964" y="627" width="3" height="46" fill="#00ff00"/>
<rect x="980" y="621" width="3" height="52" fill="#00ff00"/>
<rect x="996" y="618" width="3" height="55" fill="#00ff00"/>
<rect x="1012" y="614" width="3" height="59" fill="#00ff00"/>
<rect x="1028" y="613" width="3" height="60" fill="#00ff00"/>
<rect x="1044" y="615" width="3" height="58" fill="#00ff00"/>
<rect x="1060" y="619" width="3" height="54" fill="#00ff00"/>
<rect x="1076" y="620" width="3" height="53" fill="#00ff00"/>
<rect x="1092" y="623" width="3" height="50" fill="#00ff00"/>
<rect x="1108" y="627" width="3" height="46" fill="#00ff00"/>
<rect x="1124" y="630" width="3" height="43" fill="#00ff00"/>
<rect x="1140" y="635" width="3" height="38" fill="#00ff00"/>
<rect x="1156" y="640" width="3" height="33" fill="#00ff00"/>
<rect x="1172" y="645" width="3" height="28" fill="#00ff00"/>
<rect x="1188" y="648" width="3" height="25" fill="#00ff00"/>
<rect x="1204" y="650" width="3" height="23" fill="#00ff00"/>
<rect x="1220" y="651" width="3" height="22" fill="#00ff00"/>
<rect x="1236" y="654" width="3" height="19" fill="#00ff00"/>
<rect x="1252" y="658" width="3" height="15" fill="#00ff00"/>
<rect x="1268" y="659" width="3" height="14" fill="#00ff00"/>
<rect x="1284" y="660" width="3" height="13" fill="#00ff00"/>
<rect x="1300" y="661" width="3" height="12" fill="#00ff00"/>
<polyline points="5,726 21,720 37,713.4 53,707 69,699.5 85,692 101,683.5 117,674.3 133,666.2 149,657.7 165,649.4 181,643.4 197,639.3 213,635.9 229,634.4 245,634.1 261,635.1 277,638.1 293,642.4 309,646.9 325,651.4 341,655.5 357,658.5 373,660.7 389,662.2 405,663.8 421,664.8 437,664.8 453,665.7 469,666.8 485,666.8 501,667.8 517,667.8 533,668.7 549,668.7 565,667.8 581,667.8 597,666.8 613,665.7 629,665 645,664 661,663.8 677,663 693,663 709,662 725,662 741,662 757,661 773,661 789,661 805,660.4 821,661 837,661 853,661 869,660.4 885,658 901,656.5 917,654.4 933,651.4 949,647.6 965,643.4 981,638.4 997,634.4 1013,629.6 1029,625.3 1045,623.4 1061,621.3 1077,619.6 1093,618.9 1109,619.6 1125,620.4 1141,622.3 1157,625.3 1173,628.8 1189,632.9 1205,635.9 1221,639.4 1237,642.7 1253,646.4 1269,649.4 1285,652 1301,654" fill="none" stroke="#ff0000" stroke-width="2" shape-rendering="crispEdges"/>
</g>
<text x="9.5" y="619.2" font-size="9.9" fill="#000" stroke="#000" stroke-width="0.12" textLength="146.5" lengthAdjust="spacingAndGlyphs">MACD(12,26,9) 0.000747 0.001145</text>
<rect x="1645" y="608" width="2" height="1" fill="#000"/>
<rect x="1645" y="673" width="2" height="1" fill="#000"/>
<rect x="1645" y="726" width="2" height="1" fill="#000"/>
<text x="1648.3" y="617.3" font-size="9.9" fill="#000" stroke="#000" stroke-width="0.12" textLength="37" lengthAdjust="spacingAndGlyphs">0.004025</text>
<text x="1648.3" y="677.1" font-size="9.9" fill="#000" stroke="#000" stroke-width="0.12" textLength="17" lengthAdjust="spacingAndGlyphs">0.00</text>
<text x="1648.3" y="729.3" font-size="9.9" fill="#000" stroke="#000" stroke-width="0.12" textLength="41" lengthAdjust="spacingAndGlyphs">-0.003642</text>
<rect x="4" y="734" width="1641" height="1" fill="#000"/>
<rect x="4" y="840" width="1641" height="1" fill="#000"/>
<rect x="4" y="734" width="1" height="107" fill="#000"/>
<rect x="1644" y="734" width="1" height="107" fill="#000"/>
<line x1="5" y1="756.5" x2="1642" y2="756.5" stroke="#000" stroke-width="1" stroke-dasharray="3,3" shape-rendering="crispEdges"/>
<line x1="5" y1="787.5" x2="1642" y2="787.5" stroke="#000" stroke-width="1" stroke-dasharray="3,3" shape-rendering="crispEdges"/>
<line x1="5" y1="824.5" x2="1642" y2="824.5" stroke="#000" stroke-width="1" stroke-dasharray="3,3" shape-rendering="crispEdges"/>
<g clip-path="url(#crsi)">
<polyline points="5,784 21,771 37,771 53,771 69,773 85,773 101,772 117,764 133,762 149,764 165,764 181,780 197,781 213,786 229,790 245,790 261,790 277,792 293,792 309,793 325,786 341,786 357,787 373,773 389,786 405,786 421,794 437,790 453,790 469,790 485,789 501,782 517,783 533,783 549,784.5 565,787 581,787 597,780 613,780 629,786 645,784 661,784 677,781 693,781 709,780 725,783 741,787 757,776 773,776 789,790 805,786 821,786 837,786 853,776 869,777.5 885,769 901,769 917,770 933,769 949,771 965,771 981,766 997,766 1013,766 1029,767 1045,772.5 1061,778 1077,774 1093,777.5 1109,780 1125,780 1141,784 1157,786 1173,787 1189,785 1205,781 1221,781 1237,789 1253,790 1269,784.7 1285,784.7 1301,782.6" fill="none" stroke="#1e90ff" stroke-width="2" shape-rendering="crispEdges"/>
</g>
<text x="9.3" y="747.3" font-size="9.9" fill="#000" stroke="#000" stroke-width="0.12" textLength="67.5" lengthAdjust="spacingAndGlyphs">RSI(14) 54.9884</text>
<text x="1648" y="744.8" font-size="9.9" fill="#000" stroke="#000" stroke-width="0.12" textLength="15" lengthAdjust="spacingAndGlyphs">100</text>
<text x="1647" y="760" font-size="9.9" fill="#000" stroke="#000" stroke-width="0.12" textLength="10" lengthAdjust="spacingAndGlyphs">80</text>
<text x="1647" y="791" font-size="9.9" fill="#000" stroke="#000" stroke-width="0.12" textLength="10" lengthAdjust="spacingAndGlyphs">50</text>
<text x="1647.5" y="828" font-size="9.9" fill="#000" stroke="#000" stroke-width="0.12" textLength="10" lengthAdjust="spacingAndGlyphs">15</text>
<text x="1648" y="837" font-size="9.9" fill="#000" stroke="#000" stroke-width="0.12" textLength="5" lengthAdjust="spacingAndGlyphs">0</text>
<rect x="5" y="841" width="1" height="3" fill="#000"/>
<text x="4.5" y="852.6" font-size="9.9" fill="#000" stroke="#000" stroke-width="0.12" textLength="55" lengthAdjust="spacingAndGlyphs">11 May 2023</text>
<rect x="69" y="841" width="1" height="3" fill="#000"/>
<text x="68.5" y="852.6" font-size="9.9" fill="#000" stroke="#000" stroke-width="0.12" textLength="58" lengthAdjust="spacingAndGlyphs">12 May 00:00</text>
<rect x="133" y="841" width="1" height="3" fill="#000"/>
<text x="132.5" y="852.6" font-size="9.9" fill="#000" stroke="#000" stroke-width="0.12" textLength="58" lengthAdjust="spacingAndGlyphs">12 May 16:00</text>
<rect x="197" y="841" width="1" height="3" fill="#000"/>
<text x="196.5" y="852.6" font-size="9.9" fill="#000" stroke="#000" stroke-width="0.12" textLength="58" lengthAdjust="spacingAndGlyphs">15 May 08:00</text>
<rect x="261" y="841" width="1" height="3" fill="#000"/>
<text x="260.5" y="852.6" font-size="9.9" fill="#000" stroke="#000" stroke-width="0.12" textLength="58" lengthAdjust="spacingAndGlyphs">16 May 00:00</text>
<rect x="325" y="841" width="1" height="3" fill="#000"/>
<text x="324.5" y="852.6" font-size="9.9" fill="#000" stroke="#000" stroke-width="0.12" textLength="58" lengthAdjust="spacingAndGlyphs">16 May 16:00</text>
<rect x="389" y="841" width="1" height="3" fill="#000"/>
<text x="388.5" y="852.6" font-size="9.9" fill="#000" stroke="#000" stroke-width="0.12" textLength="58" lengthAdjust="spacingAndGlyphs">17 May 08:00</text>
<rect x="453" y="841" width="1" height="3" fill="#000"/>
<text x="452.5" y="852.6" font-size="9.9" fill="#000" stroke="#000" stroke-width="0.12" textLength="58" lengthAdjust="spacingAndGlyphs">18 May 00:00</text>
<rect x="517" y="841" width="1" height="3" fill="#000"/>
<text x="516.5" y="852.6" font-size="9.9" fill="#000" stroke="#000" stroke-width="0.12" textLength="58" lengthAdjust="spacingAndGlyphs">18 May 16:00</text>
<rect x="581" y="841" width="1" height="3" fill="#000"/>
<text x="580.5" y="852.6" font-size="9.9" fill="#000" stroke="#000" stroke-width="0.12" textLength="58" lengthAdjust="spacingAndGlyphs">19 May 08:00</text>
<rect x="645" y="841" width="1" height="3" fill="#000"/>
<text x="644.5" y="852.6" font-size="9.9" fill="#000" stroke="#000" stroke-width="0.12" textLength="58" lengthAdjust="spacingAndGlyphs">22 May 00:00</text>
<rect x="709" y="841" width="1" height="3" fill="#000"/>
<text x="708.5" y="852.6" font-size="9.9" fill="#000" stroke="#000" stroke-width="0.12" textLength="58" lengthAdjust="spacingAndGlyphs">22 May 16:00</text>
<rect x="773" y="841" width="1" height="3" fill="#000"/>
<text x="772.5" y="852.6" font-size="9.9" fill="#000" stroke="#000" stroke-width="0.12" textLength="58" lengthAdjust="spacingAndGlyphs">23 May 08:00</text>
<rect x="837" y="841" width="1" height="3" fill="#000"/>
<text x="836.5" y="852.6" font-size="9.9" fill="#000" stroke="#000" stroke-width="0.12" textLength="58" lengthAdjust="spacingAndGlyphs">24 May 00:00</text>
<rect x="901" y="841" width="1" height="3" fill="#000"/>
<text x="900.5" y="852.6" font-size="9.9" fill="#000" stroke="#000" stroke-width="0.12" textLength="58" lengthAdjust="spacingAndGlyphs">24 May 16:00</text>
<rect x="965" y="841" width="1" height="3" fill="#000"/>
<text x="964.5" y="852.6" font-size="9.9" fill="#000" stroke="#000" stroke-width="0.12" textLength="58" lengthAdjust="spacingAndGlyphs">25 May 08:00</text>
<rect x="1029" y="841" width="1" height="3" fill="#000"/>
<text x="1028.5" y="852.6" font-size="9.9" fill="#000" stroke="#000" stroke-width="0.12" textLength="58" lengthAdjust="spacingAndGlyphs">26 May 00:00</text>
<rect x="1093" y="841" width="1" height="3" fill="#000"/>
<text x="1092.5" y="852.6" font-size="9.9" fill="#000" stroke="#000" stroke-width="0.12" textLength="58" lengthAdjust="spacingAndGlyphs">26 May 16:00</text>
<rect x="1157" y="841" width="1" height="3" fill="#000"/>
<text x="1156.5" y="852.6" font-size="9.9" fill="#000" stroke="#000" stroke-width="0.12" textLength="58" lengthAdjust="spacingAndGlyphs">29 May 08:00</text>
<rect x="1221" y="841" width="1" height="3" fill="#000"/>
<text x="1220.5" y="852.6" font-size="9.9" fill="#000" stroke="#000" stroke-width="0.12" textLength="58" lengthAdjust="spacingAndGlyphs">30 May 00:00</text>
<rect x="1285" y="841" width="1" height="3" fill="#000"/>
<text x="1284.5" y="852.6" font-size="9.9" fill="#000" stroke="#000" stroke-width="0.12" textLength="58" lengthAdjust="spacingAndGlyphs">30 May 16:00</text>
</svg></body></html>
